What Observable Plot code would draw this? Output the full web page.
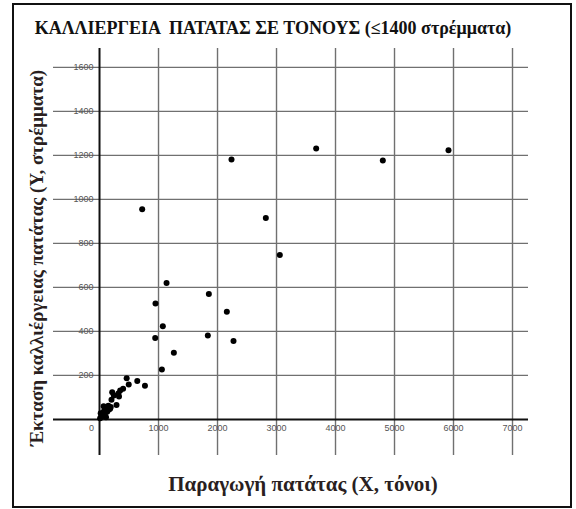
<!DOCTYPE html>
<html>
<head>
<meta charset="utf-8">
<script src="https://cdn.jsdelivr.net/npm/d3@7"></script>
<script src="https://cdn.jsdelivr.net/npm/@observablehq/plot@0.6"></script>
<style>
  html, body { margin: 0; padding: 0; background: #fff; }
  #wrap { position: relative; width: 576px; height: 509px; overflow: hidden; }
  #frame { position: absolute; left: 12px; top: 3px; width: 556px; height: 501px; border: 2px solid #111; box-sizing: content-box; pointer-events: none; }
  #chart { position: absolute; left: 0; top: 0; }
</style>
</head>
<body>
<div id="wrap"><div id="chart"></div><div id="frame"></div></div>
<script>
// Production of potatoes (X, tonnes)
const production = [723, 2237, 3672, 4802, 5915, 2819, 3056, 1136, 1853, 949, 2158, 1073, 944, 1836, 2271, 1260, 1057,
  460, 640, 495, 770, 400, 350, 215, 320, 243, 330, 203, 288, 190, 150, 120, 100, 160, 80, 60, 130, 40, 90, 30, 10, 50, 110, 20, 70, 140, 180];
// Cultivated area (Y, stremmata)
const area = [955, 1182, 1232, 1177, 1224, 915, 747, 620, 570, 527, 489, 423, 370, 382, 356, 303, 227,
  187, 175, 159, 153, 139, 132, 124, 118, 109, 104, 89, 66, 56, 62, 55, 50, 45, 40, 30, 35, 20, 25, 12, 5, 15, 10, 28, 60, 42, 48];
const xTicks = [0, 1000, 2000, 3000, 4000, 5000, 6000, 7000];
const yTicks = [0, 200, 400, 600, 800, 1000, 1200, 1400, 1600];
const xTickLabels = ["0", "1000", "2000", "3000", "4000", "5000", "6000", "7000"];
const yTickLabels = ["", "200", "400", "600", "800", "1000", "1200", "1400", "1600"];
const title = "ΚΑΛΛΙΕΡΓΕΙΑ  ΠΑΤΑΤΑΣ ΣΕ ΤΟΝΟΥΣ (≤1400 στρέμματα)";
const xLabel = "Παραγωγή πατάτας (Χ, τόνοι)";
const yLabel = "Έκταση καλλιέργειας πατάτας (Υ, στρέμματα)";

const points = production.map((x, i) => ({x, y: area[i]}));
const xLab = xTicks.map((t, i) => ({t, label: xTickLabels[i]}));
const yLab = yTicks.map((t, i) => ({t, label: yTickLabels[i]}));
const serif = "'Liberation Serif', 'DejaVu Serif', serif";
const sans = "'Liberation Sans', Arial, sans-serif";

const chart = Plot.plot({
  width: 576,
  height: 509,
  marginLeft: 53,
  marginRight: 48,
  marginTop: 48,
  marginBottom: 54,
  x: {domain: [-780, 7271]},
  y: {domain: [-164, 1686]},
  axis: null,
  style: {background: "transparent", overflow: "visible"},
  marks: [
    Plot.ruleX(xTicks.filter(d => d !== 0), {stroke: "#707070", strokeWidth: 1.4}),
    Plot.ruleY(yTicks.filter(d => d !== 0), {stroke: "#707070", strokeWidth: 1.4}),
    Plot.ruleX([0], {stroke: "#111", strokeWidth: 2}),
    Plot.ruleY([0], {stroke: "#111", strokeWidth: 2}),
    Plot.text(xLab.filter(d => d.t !== 0), {x: "t", y: () => 0, text: "label", dy: 9,
      fontSize: 9, fontFamily: sans, fill: "#555"}),
    Plot.text(xLab.filter(d => d.t === 0), {x: "t", y: () => 0, text: "label", dy: 9, dx: -8,
      fontSize: 9, fontFamily: sans, fill: "#555"}),
    Plot.text(yLab, {x: () => 0, y: "t", text: "label", dx: -6, textAnchor: "end",
      fontSize: 9, fontFamily: sans, fill: "#555"}),
    Plot.dot(points, {x: "x", y: "y", r: 3, fill: "#000", stroke: "none"}),
    Plot.text([title], {frameAnchor: "top", textAnchor: "middle", dy: -27, dx: -18, fontSize: 18, fontWeight: "bold", fontFamily: serif, fill: "#111"}),
    Plot.text([xLabel], {frameAnchor: "bottom", textAnchor: "middle", dy: 35, dx: 12, fontSize: 21, fontWeight: "bold", fontFamily: serif, fill: "#2a1f1f"}),
    Plot.text([yLabel], {frameAnchor: "left", textAnchor: "middle", rotate: -90, dx: -17, dy: 6, fontSize: 19, fontWeight: "bold", fontFamily: serif, fill: "#2a1f1f"})
  ]
});
document.getElementById("chart").appendChild(chart);
</script>
</body>
</html>
